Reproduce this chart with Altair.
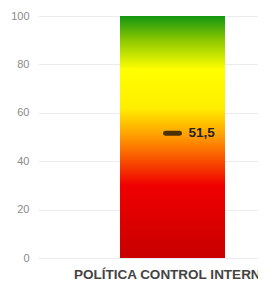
import altair as alt
import pandas as pd

categories = ["POLÍTICA CONTROL INTERNO"]
values = [100]
marker_values = [51.5]
marker_labels = ["51,5"]
y_ticks = [0, 20, 40, 60, 80, 100]

bar_df = pd.DataFrame({"cat": categories, "val": values})
mk_df = pd.DataFrame({"cat": categories, "val": marker_values, "lab": marker_labels})

grad = alt.Gradient(
    gradient="linear",
    x1=0, x2=0, y1=1, y2=0,
    stops=[
        alt.GradientStop(color="#c80000", offset=0),
        alt.GradientStop(color="#f00000", offset=0.3),
        alt.GradientStop(color="#ff9a00", offset=0.5),
        alt.GradientStop(color="#ffee00", offset=0.62),
        alt.GradientStop(color="#ffff00", offset=0.78),
        alt.GradientStop(color="#8cc800", offset=0.9),
        alt.GradientStop(color="#129612", offset=1),
    ],
)

x_enc = alt.X(
    "cat:N",
    title=None,
    scale=alt.Scale(paddingInner=0, paddingOuter=0.548, align=0.713),
    axis=alt.Axis(
        labelAngle=0, domain=False, ticks=False, labelPadding=9,
        labelFont="Liberation Sans", labelFontSize=13.5, labelFontWeight="bold",
        labelColor="#444444", labelLimit=0, labelOverlap=False,
    ),
)
y_scale = alt.Scale(domain=[0, 100], nice=False)

bars = alt.Chart(bar_df).mark_bar(color=grad, width=105).encode(
    x=x_enc,
    y=alt.Y(
        "val:Q", title=None, scale=y_scale,
        axis=alt.Axis(
            values=y_ticks, domain=False, ticks=False, labelPadding=9,
            labelFont="Liberation Sans", labelFontSize=11, labelColor="#8a8a8a",
            gridColor="#ebebeb",
        ),
    ),
)

tick = alt.Chart(mk_df).mark_tick(
    color="#000000", thickness=5, size=19, cornerRadius=2.5, orient="horizontal"
).encode(x="cat:N", y=alt.Y("val:Q", scale=y_scale))

txt = alt.Chart(mk_df).mark_text(
    align="left", baseline="middle", dx=16, font="Liberation Sans",
    fontSize=13.5, fontWeight="bold", color="#222222",
).encode(x="cat:N", y=alt.Y("val:Q", scale=y_scale), text="lab:N")

chart = (
    alt.layer(bars, tick, txt)
    .properties(
        width=220, height=242,
        autosize=alt.AutoSizeParams(type="none"),
        padding={"left": 30, "top": 8, "right": 0, "bottom": 23},
    )
    .configure_view(stroke=None)
)

chart.save("out.html", embed_options={"renderer": "svg", "actions": False})
